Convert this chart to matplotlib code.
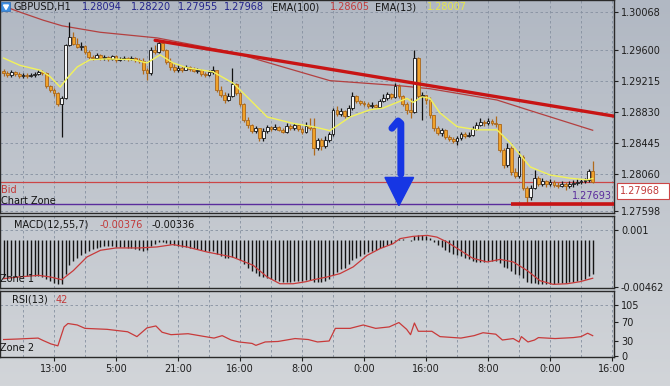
import numpy as np
import matplotlib
matplotlib.use("Agg")
import matplotlib.pyplot as plt
from matplotlib.colors import LinearSegmentedColormap
from matplotlib.patches import Rectangle, Polygon

W, H = 670, 386

# GBPUSD H1 candles (oldest first)
first_open = 1.2934
closes = [1.2931, 1.2929, 1.2933, 1.2930, 1.2928, 1.2929, 1.2928, 1.2929, 1.2930, 1.2933,
          1.2931, 1.2915, 1.2910, 1.2907, 1.2893, 1.2900, 1.2966, 1.2976, 1.2967, 1.2964,
          1.2965, 1.2958, 1.2951, 1.2950, 1.2954, 1.2950, 1.2951, 1.2949, 1.2953, 1.2948,
          1.2949, 1.2950, 1.2949, 1.2950, 1.2948, 1.2946, 1.2935, 1.2931, 1.2960, 1.2958,
          1.2969, 1.2960, 1.2945, 1.2939, 1.2935, 1.2938, 1.2935, 1.2939, 1.2936, 1.2934,
          1.2935, 1.2930, 1.2929, 1.2933, 1.2935, 1.2910, 1.2904, 1.2898, 1.2903, 1.2918,
          1.2907, 1.2893, 1.2873, 1.2867, 1.2860, 1.2863, 1.2851, 1.2860, 1.2865, 1.2862,
          1.2865, 1.2861, 1.2858, 1.2866, 1.2863, 1.2867, 1.2862, 1.2858, 1.2866, 1.2863,
          1.2839, 1.2848, 1.2841, 1.2848, 1.2856, 1.2886, 1.2881, 1.2884, 1.2878, 1.2888,
          1.2903, 1.2897, 1.2894, 1.2893, 1.2890, 1.2892, 1.2889, 1.2897, 1.2900, 1.2905,
          1.2902, 1.2915, 1.2903, 1.2893, 1.2886, 1.2883, 1.2950, 1.2903, 1.2904, 1.2898,
          1.2879, 1.2863, 1.2857, 1.2861, 1.2852, 1.2850, 1.2847, 1.2851, 1.2856, 1.2853,
          1.2855, 1.2862, 1.2867, 1.2871, 1.2869, 1.2872, 1.2869, 1.2868, 1.2836, 1.2817,
          1.2839, 1.2809, 1.2804, 1.2827, 1.2789, 1.2778, 1.2789, 1.2801, 1.2794, 1.2798,
          1.2794, 1.2796, 1.2793, 1.2791, 1.2794, 1.2791, 1.2794, 1.2795, 1.2796, 1.2798,
          1.2799, 1.28094, 1.27968]
highs = [1.2936, 1.2934, 1.2935, 1.2934, 1.2933, 1.2931, 1.2931, 1.2931, 1.2933, 1.2935,
         1.2935, 1.2933, 1.2917, 1.2913, 1.2908, 1.2903, 1.2967, 1.2995, 1.2982, 1.2975,
         1.2970, 1.2966, 1.2960, 1.2954, 1.2956, 1.2955, 1.2954, 1.2953, 1.2954, 1.2954,
         1.2951, 1.2953, 1.2951, 1.2953, 1.2951, 1.2950, 1.2950, 1.2938, 1.2964, 1.2966,
         1.2972, 1.2972, 1.2961, 1.2950, 1.2943, 1.2941, 1.2940, 1.2941, 1.2940, 1.2939,
         1.2938, 1.2936, 1.2933, 1.2935, 1.2940, 1.2935, 1.2915, 1.2908, 1.2907, 1.2938,
         1.2919, 1.2908, 1.2894, 1.2877, 1.2868, 1.2866, 1.2863, 1.2863, 1.2867, 1.2866,
         1.2868, 1.2866, 1.2863, 1.2869, 1.2868, 1.2869, 1.2868, 1.2865, 1.2871, 1.2876,
         1.2876, 1.2851, 1.2851, 1.2853, 1.2858, 1.2888, 1.2890, 1.2888, 1.2886, 1.2892,
         1.2908, 1.2904, 1.2898, 1.2897, 1.2895, 1.2895, 1.2893, 1.2899, 1.2905, 1.2908,
         1.2907, 1.2919, 1.2918, 1.2904, 1.2895, 1.2900, 1.2960, 1.2951, 1.2908, 1.2904,
         1.2902, 1.2879, 1.2866, 1.2863, 1.2862, 1.2855, 1.2852, 1.2853, 1.2858, 1.2858,
         1.2858, 1.2866, 1.2871, 1.2876, 1.2873, 1.2876, 1.2874, 1.2878, 1.2868, 1.2839,
         1.2845, 1.2841, 1.2814, 1.2835, 1.2830, 1.2791, 1.2793, 1.2811, 1.2804, 1.2801,
         1.2799, 1.2800, 1.2799, 1.2796, 1.2798, 1.2796, 1.2798, 1.2799, 1.2800, 1.2800,
         1.2801, 1.2812, 1.28220]
lows = [1.2928, 1.2927, 1.2927, 1.2928, 1.2925, 1.2925, 1.2925, 1.2927, 1.2927, 1.2929,
        1.2929, 1.2913, 1.2908, 1.2903, 1.2890, 1.2852, 1.2899, 1.2965, 1.2966, 1.2962,
        1.2960, 1.2955, 1.2949, 1.2948, 1.2949, 1.2948, 1.2948, 1.2946, 1.2948, 1.2945,
        1.2946, 1.2948, 1.2946, 1.2948, 1.2945, 1.2944, 1.2930, 1.2923, 1.2929, 1.2955,
        1.2956, 1.2959, 1.2943, 1.2935, 1.2933, 1.2933, 1.2933, 1.2935, 1.2934, 1.2933,
        1.2931, 1.2928, 1.2927, 1.2928, 1.2930, 1.2908, 1.2902, 1.2894, 1.2897, 1.2902,
        1.2904, 1.2890, 1.2871, 1.2863, 1.2857, 1.2857, 1.2847, 1.2847, 1.2857, 1.2860,
        1.2861, 1.2860, 1.2857, 1.2857, 1.2861, 1.2861, 1.2860, 1.2856, 1.2857, 1.2861,
        1.2830, 1.2836, 1.2836, 1.2839, 1.2846, 1.2853, 1.2878, 1.2878, 1.2876, 1.2877,
        1.2886, 1.2894, 1.2892, 1.2890, 1.2888, 1.2888, 1.2888, 1.2888, 1.2895, 1.2898,
        1.2899, 1.2900, 1.2900, 1.2890, 1.2881, 1.2876, 1.2882, 1.2900, 1.2873, 1.2893,
        1.2876, 1.2860, 1.2855, 1.2853, 1.2850, 1.2847, 1.2845, 1.2842, 1.2848, 1.2851,
        1.2852, 1.2853, 1.2861, 1.2866, 1.2866, 1.2867, 1.2867, 1.2865, 1.2834, 1.2814,
        1.2815, 1.2805, 1.2801, 1.2801, 1.2786, 1.2770, 1.2774, 1.2788, 1.2791, 1.2791,
        1.2790, 1.2791, 1.2790, 1.2789, 1.2790, 1.2786, 1.2789, 1.2790, 1.2793, 1.2794,
        1.2795, 1.2796, 1.27955]

# moving averages (bar index, value)
ema13_idx = [0, 4.2, 9.4, 12, 14.6, 16.4, 19, 22.3, 26.7, 33.4, 37, 40.4, 43.7, 47.3, 54,
             59.2, 62.8, 68, 74.7, 79.8, 84.2, 89.4, 94.6, 97.9, 101.5, 104.1, 105.6, 108,
             110, 112.6, 117, 122.2, 127.3, 130.7, 133.3, 135.9, 141, 146.2, 150.6, 152]
ema13_val = [1.2950, 1.2941, 1.2935, 1.2927, 1.2914, 1.2925, 1.2939, 1.2948, 1.2949, 1.2948,
             1.2944, 1.2954, 1.2944, 1.2938, 1.2933, 1.2919, 1.2902, 1.2877, 1.2869, 1.2865,
             1.2860, 1.2877, 1.2886, 1.2888, 1.2895, 1.2900, 1.2895, 1.2902, 1.2900, 1.2882,
             1.2865, 1.2861, 1.2861, 1.2845, 1.2830, 1.2815, 1.2805, 1.2801, 1.2799, 1.28007]
ema100_idx = [-0.9, 4.2, 10.2, 15.1, 24.9, 39.6, 59.2, 84.2, 101.5, 110, 127.3, 135.8, 152]
ema100_val = [1.3016, 1.3007, 1.2997, 1.2990, 1.2982, 1.2975, 1.2957, 1.2922, 1.2916,
              1.2912, 1.2898, 1.2885, 1.28605]

# MACD(12,55,7): histogram per bar and signal line
macd_hist = [-0.0036, -0.0036, -0.0035, -0.0036, -0.0035, -0.0035, -0.0035, -0.0034, -0.0035, -0.0035,
             -0.0036, -0.0038, -0.0040, -0.0042, -0.0043, -0.0043, -0.0033, -0.0025, -0.0021, -0.0018,
             -0.0015, -0.0013, -0.0011, -0.0009, -0.0008, -0.0007, -0.0006, -0.0006, -0.0006, -0.0007,
             -0.0007, -0.0007, -0.0008, -0.0008, -0.0009, -0.0010, -0.0011, -0.0010, -0.0006, -0.0004,
             -0.0002, -0.0002, -0.0003, -0.0004, -0.0005, -0.0006, -0.0007, -0.0007, -0.0008, -0.0008,
             -0.0009, -0.0010, -0.0011, -0.0011, -0.0011, -0.0014, -0.0016, -0.0018, -0.0018, -0.0017,
             -0.0018, -0.0020, -0.0024, -0.0027, -0.0030, -0.0032, -0.0035, -0.0036, -0.0037, -0.0038,
             -0.0039, -0.0040, -0.0041, -0.0041, -0.0041, -0.0040, -0.0040, -0.0040, -0.0039, -0.0039,
             -0.0041, -0.0041, -0.0041, -0.0040, -0.0038, -0.0034, -0.0031, -0.0028, -0.0027, -0.0024,
             -0.0020, -0.0018, -0.0016, -0.0014, -0.0012, -0.0011, -0.0010, -0.0008, -0.0007, -0.0005,
             -0.0004, -0.0001, 0.0001, 0.0001, 0.0000, -0.0001, 0.0004, 0.0005, 0.0005, 0.0004,
             0.0002, -0.0002, -0.0005, -0.0007, -0.0010, -0.0012, -0.0014, -0.0015, -0.0016, -0.0018,
             -0.0019, -0.0021, -0.0022, -0.0022, -0.0022, -0.0021, -0.0021, -0.0021, -0.0023, -0.0026,
             -0.0027, -0.0030, -0.0033, -0.0034, -0.0037, -0.0041, -0.0042, -0.0042, -0.0043, -0.0043,
             -0.0043, -0.0043, -0.0043, -0.0042, -0.0042, -0.0042, -0.0041, -0.0041, -0.0040, -0.0039,
             -0.0038, -0.0035, -0.00336]
signal_idx = [0, 4, 9, 12, 15, 18, 21.5, 25, 29, 35, 39.6, 43.7, 47.3, 52.5, 59, 64.4, 68,
              71.3, 74.7, 78, 80, 83.5, 86.8, 90.2, 93.8, 97.1, 100.5, 102.3, 105.6, 109.3,
              111.8, 114.4, 117.8, 121.1, 124.8, 128.1, 131.5, 135.1, 138.4, 141.8, 145.4,
              148.7, 152]
signal_val = [-0.0038, -0.00363, -0.00347, -0.00363, -0.0039, -0.0030, -0.00166, -0.0010,
              -0.00077, -0.00077, -0.00067, -0.00044, -0.00067, -0.00117, -0.00166, -0.00248,
              -0.00363, -0.0043, -0.0043, -0.0041, -0.0039, -0.00363, -0.0033, -0.00264,
              -0.0015, -0.00084, -0.00035, 0.00015, 0.00037, 0.00047, 0.0003, -0.00018,
              -0.0010, -0.0018, -0.00215, -0.0019, -0.00215, -0.0030, -0.0040, -0.00436,
              -0.0043, -0.0041, -0.00376]

# RSI(13)
rsi_idx = [0, 3.5, 8.9, 10.2, 12.2, 14, 15.6, 16.6, 19, 21, 26.7, 32, 34.4, 37, 39.3, 40.9,
           43.2, 47.6, 52, 54.3, 56.4, 58.7, 60.7, 64.1, 65.1, 67.5, 70.8, 75.2, 78.6, 81,
           84, 85.6, 89.4, 92.8, 96, 99.5, 102, 104, 105, 106, 107, 110.5, 112.6, 118, 121.4,
           123.7, 127, 128.7, 131.5, 133, 133.6, 135.3, 137, 138, 142.3, 147, 149, 150.7, 152]
rsi_val = [34, 35, 37, 32, 25, 21, 60, 67, 64, 57, 55, 50, 40, 58, 62, 49,
           44, 46, 40, 37, 42, 33, 29, 26, 22, 29, 30, 36, 34, 29,
           31, 57, 57, 64, 57, 60, 69, 55, 44, 68, 51, 51, 40, 37, 42,
           48, 45, 33, 36, 29, 40, 29, 33, 38, 36, 38, 40, 47, 42]

# drawn objects
trend_idx = [39.1, 157.5]
trend_val = [1.2972, 1.2878]
support_idx = [131, 157.5]
support_val = 1.27685
bid = 1.27968
zone = 1.27693
arrow_shaft_idx = [100.2, 101.8, 102.5, 102.5]
arrow_shaft_val = [1.2863, 1.2872, 1.2869, 1.2806]
arrow_head_idx = [98.4, 105.8, 102.0]
arrow_head_val = [1.2802, 1.2802, 1.2767]

price_ticks = [1.30068, 1.29600, 1.29215, 1.28830, 1.28445, 1.28060, 1.27598]
time_idx = [13, 29, 45, 61, 77, 93, 109, 125, 141, 157]
time_labels = ["13:00", "5:00", "21:00", "16:00", "8:00", "0:00", "16:00", "8:00", "0:00", "16:00"]
grid_idx = list(range(5, 158, 8))

plt.rcParams['font.family'] = ['DejaVu Sans']

fig = plt.figure(figsize=(W / 100, H / 100), dpi=100)

# light grey-blue gradient behind everything
bg = fig.add_axes([0, 0, 1, 1], zorder=-10)
bg.imshow(np.linspace(0, 1, 256)[:, None], aspect='auto', extent=[0, 1, 0, 1],
          cmap=LinearSegmentedColormap.from_list('bg', ['#b1b8c3', '#d2d5d9']))
bg.axis('off')

grid_kw = dict(color='#8590a0', lw=0.6, ls=(0, (3, 3)), zorder=0)


def panel(top, bottom, ylim, yt, ylabels):
    a = fig.add_axes([0, 1 - bottom / H, 614 / W, (bottom - top) / H], facecolor='none')
    a.set_xlim(-0.93, 157.5)
    a.set_ylim(*ylim)
    a.yaxis.tick_right()
    a.set_yticks(yt)
    a.set_yticklabels(ylabels)
    a.tick_params(axis='y', direction='out', length=3, width=0.8, colors='#1e1e1e',
                  labelsize=7, pad=2)
    a.tick_params(axis='x', length=0, labelbottom=False)
    for s in a.spines.values():
        s.set_color('#2a2a2a')
        s.set_linewidth(1.0)
    for gx in grid_idx:
        a.axvline(gx, **grid_kw)
    return a


ax = panel(0, 213, (1.27579, 1.30220), price_ticks, ["%.5f" % p for p in price_ticks])
for p in price_ticks:
    ax.axhline(p, **grid_kw)

ax2 = panel(216, 288, (-0.00472, 0.00238), [0.001, -0.00462], ["0.001", "-0.00462"])
ax2.axhline(0.001, **grid_kw)

ax3 = panel(291, 357, (-2, 134), [105, 70, 30, 0], ["105", "70", "30", "0"])
ax3.axhline(105, **grid_kw)
ax3.set_xticks(time_idx)
ax3.set_xticklabels(time_labels)
ax3.tick_params(axis='x', length=3, width=0.8, direction='out', labelbottom=True,
                labelsize=7, colors='#1e1e1e', pad=2)

# candles
x = np.arange(len(closes))
c = np.array(closes)
o = np.array([first_open] + closes[:-1])
up = c >= o
wick_col = np.where(up, '#111111', '#b06a1a')
body_col = np.where(up, '#f6f6f6', '#f0a22a')
edge_col = np.where(up, '#111111', '#a8661c')
ax.vlines(x, lows, highs, colors=wick_col, lw=0.9, zorder=3)
ax.bar(x, np.maximum(np.abs(c - o), 0.00002), bottom=np.minimum(o, c), width=0.72,
       color=body_col, edgecolor=edge_col, linewidth=0.6, zorder=4)

ax.plot(ema100_idx, ema100_val, color='#b34040', lw=0.9, zorder=2)
ax.plot(ema13_idx, ema13_val, color='#f2f25a', lw=1.0, zorder=5)

ax.axhline(bid, color='#cc4646', lw=0.9, zorder=2)
ax.axhline(zone, color='#5a2c9c', lw=1.0, zorder=2)
ax.plot(support_idx, [support_val, support_val], color='#c81414', lw=2.6,
        solid_capstyle='butt', zorder=6)
ax.plot(trend_idx, trend_val, color='#c81414', lw=2.4, solid_capstyle='round', zorder=6)

# hand drawn blue arrow
ax.plot(arrow_shaft_idx, arrow_shaft_val, color='#1636e4', lw=5, solid_capstyle='round',
        solid_joinstyle='round', zorder=7)
ax.add_patch(Polygon(list(zip(arrow_head_idx, arrow_head_val)), closed=True,
                     color='#1636e4', zorder=7))

# MACD and RSI
ax2.vlines(x, 0, macd_hist, colors='#141414', lw=1.0, zorder=3)
ax2.plot(signal_idx, signal_val, color='#c83a3a', lw=0.9, zorder=4)
ax3.plot(rsi_idx, rsi_val, color='#c83a3a', lw=0.9, zorder=4)


def ptext(px, py, s, **kw):
    kw.setdefault('fontsize', 7)
    kw.setdefault('va', 'center')
    kw.setdefault('color', '#141414')
    fig.text(px / W, 1 - py / H, s, **kw)


# header line
fig.patches.append(Rectangle((1 / W, 1 - 11 / H), 9 / W, 9 / H, transform=fig.transFigure,
                             facecolor='#3d8ee0', edgecolor='#2a6cb8', lw=0.5))
fig.patches.append(Polygon([(3.5 / W, 1 - 5 / H), (8.5 / W, 1 - 5 / H), (6 / W, 1 - 9.5 / H)],
                           closed=True, transform=fig.transFigure, color='white'))
ptext(14, 7, "GBPUSD,H1")
for px, s in zip([82, 131, 178, 224], ["1.28094", "1.28220", "1.27955", "1.27968"]):
    ptext(px, 7, s, color='#22228a')
ptext(272, 7, "EMA(100)")
ptext(330, 7, "1.28605", color='#c23a3a')
ptext(375, 7, "EMA(13)")
ptext(427, 7, "1.28007", color='#e6e64a')

ptext(1, 190, "Bid", color='#c23a3a')
ptext(1, 201, "Chart Zone")
ptext(612, 196, "1.27693", color='#5a2c9c', ha='right')
fig.patches.append(Rectangle((617 / W, 1 - 199 / H), 52 / W, 16 / H, transform=fig.transFigure,
                             facecolor='white', edgecolor='#cc4646', lw=0.8))
ptext(620, 191, "1.27968", color='#c23a3a')

ptext(14, 225, "MACD(12,55,7)")
ptext(100, 225, "-0.00376", color='#c23a3a')
ptext(152, 225, "-0.00336")
ptext(0, 279, "Zone 1")

ptext(12, 300, "RSI(13)")
ptext(56, 300, "42", color='#c23a3a')
ptext(0, 348, "Zone 2")

fig.savefig("out.png", dpi=100)
